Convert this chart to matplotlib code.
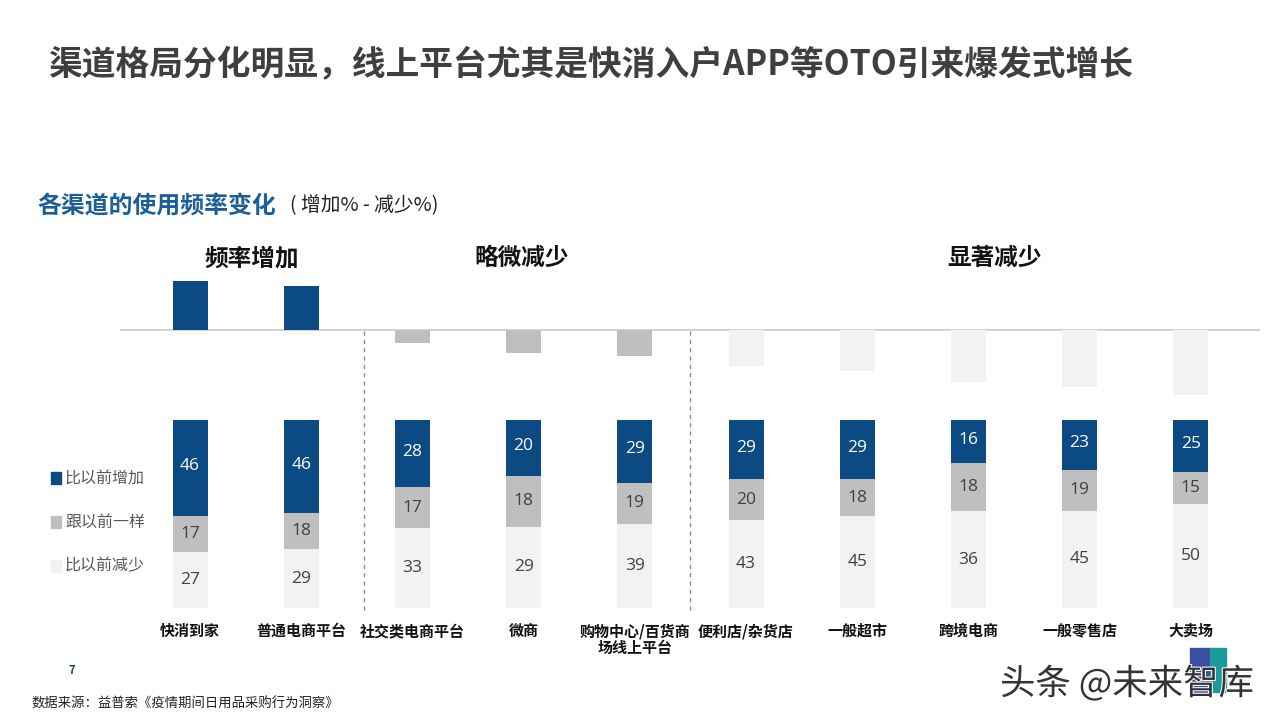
import matplotlib
matplotlib.use("Agg")
import matplotlib.pyplot as plt
from matplotlib.patches import Rectangle
import matplotlib.patheffects as pe
import numpy as np

plt.rcParams['font.family'] = ['Noto Sans CJK SC', 'DejaVu Sans']

# ---------------- data ----------------
categories = ['快消到家', '普通电商平台', '社交类电商平台', '微商', '购物中心/百货商\n场线上平台',
              '便利店/杂货店', '一般超市', '跨境电商', '一般零售店', '大卖场']
increase = [46, 46, 28, 20, 29, 29, 29, 16, 23, 25]
same = [17, 18, 17, 18, 19, 20, 18, 18, 19, 15]
decrease = [27, 29, 33, 29, 39, 43, 45, 36, 45, 50]
groups = ['频率增加', '略微减少', '显著减少']
legend_labels = ['比以前增加', '跟以前一样', '比以前减少']

NAVY = '#0B4A82'
GRAY = '#BFBFBF'
LIGHT = '#F2F2F2'

W, H = 1280, 720
fig = plt.figure(figsize=(12.8, 7.2), dpi=100)

def fx(px):
    return px / W

def fy(py):
    return 1 - py / H

# x mapping: first center at px 190, spacing 111.2 px; axes from px 120 to 1260
x0_px, step_px = 190.0, 111.2
ax_left, ax_right = 120, 1260
xmin = (ax_left - x0_px) / step_px
xmax = (ax_right - x0_px) / step_px
bw = 35 / step_px
x = np.arange(len(categories))
net = np.array(increase) - np.array(decrease)

# ---------------- top net bar chart ----------------
top_px, bot_px, zero_px, scale = 272, 402, 330, 2.58
axT = fig.add_axes([fx(ax_left), fy(bot_px), fx(ax_right - ax_left), (bot_px - top_px) / H])
axT.set_xlim(xmin, xmax)
axT.set_ylim(-(bot_px - zero_px) / scale, (zero_px - top_px) / scale)
net_colors = [NAVY if v > 0 else (GRAY if i < 5 else LIGHT) for i, v in enumerate(net)]
axT.bar(x, net, width=bw, color=net_colors, zorder=2)
axT.axhline(0, color='#D0D0D0', lw=1.3, zorder=1)
axT.axis('off')

# ---------------- bottom 100% stacked bars ----------------
sb_top, sb_bot = 420, 608
axB = fig.add_axes([fx(ax_left), fy(sb_bot), fx(ax_right - ax_left), (sb_bot - sb_top) / H])
axB.set_xlim(xmin, xmax)
axB.set_ylim(0, 1)
tot = np.array(increase) + np.array(same) + np.array(decrease)
d = np.array(decrease) / tot
s = np.array(same) / tot
inc = np.array(increase) / tot
axB.bar(x, d, width=bw, color=LIGHT)
axB.bar(x, s, width=bw, bottom=d, color=GRAY)
axB.bar(x, inc, width=bw, bottom=d + s, color=NAVY)
num_font = ['Open Sans', 'DejaVu Sans']
for i in range(len(x)):
    axB.text(x[i], d[i] / 2, str(decrease[i]), ha='center', va='center', fontsize=12.5,
             color='#404040', family=num_font)
    axB.text(x[i], d[i] + s[i] / 2, str(same[i]), ha='center', va='center', fontsize=12.5,
             color='#404040', family=num_font)
    axB.text(x[i], d[i] + s[i] + inc[i] / 2 + 0.01, str(increase[i]), ha='center', va='center',
             fontsize=12.5, color='white', family=num_font)
    axB.text(x[i], -0.08, categories[i], ha='center', va='top', fontsize=10.8,
             fontweight='bold', color='#111111', linespacing=1.05)
axB.axis('off')

# dashed separators
for sep_px in (364, 690):
    fig.add_artist(plt.Line2D([fx(sep_px), fx(sep_px)], [fy(331), fy(612)],
                              color='#8090A0', lw=1, ls=(0, (3, 3))))

# ---------------- texts ----------------
fig.text(fx(48), fy(65), '渠道格局分化明显，线上平台尤其是快消入户APP等OTO引来爆发式增长',
         fontsize=24.3, fontweight='bold', color='#3F3F3F', va='center', ha='left')
fig.text(fx(37), fy(207), '各渠道的使用频率变化', fontsize=17.2, fontweight='bold',
         color='#1A5E9A', va='center', ha='left')
fig.text(fx(290), fy(206), '( 增加% - 减少%)', fontsize=14.2, color='#222222',
         va='center', ha='left')

for g, cx in zip(groups, (252, 522, 995)):
    fig.text(fx(cx), fy(258), g, fontsize=17, fontweight='bold', color='#111111',
             ha='center', va='center')

# legend
for lab, col, py in zip(legend_labels, (NAVY, GRAY, LIGHT), (478, 522, 566)):
    fig.add_artist(Rectangle((fx(51), fy(py + 6)), 10 / W, 12 / H, color=col,
                             transform=fig.transFigure))
    fig.text(fx(65), fy(py), lab, fontsize=11.5, color='#595959', va='center', ha='left')

# footer
fig.text(fx(72), fy(671), '7', fontsize=8, fontweight='bold', color='#1F3F7F',
         ha='center', va='center')
fig.text(fx(32), fy(704), '数据来源：益普索《疫情期间日用品采购行为洞察》', fontsize=9.6,
         color='#222222', ha='left', va='center')

# watermark
fig.add_artist(Rectangle((fx(1190), fy(692)), 20 / W, 44 / H, color='#3A4FA0',
                         transform=fig.transFigure))
fig.add_artist(Rectangle((fx(1210), fy(692)), 16 / W, 44 / H, color='#1A9A9A',
                         transform=fig.transFigure))
fig.text(fx(1000), fy(684), '头条 @未来智库', fontsize=25.5, color='#333333',
         ha='left', va='center',
         path_effects=[pe.withStroke(linewidth=1.5, foreground='white')])

fig.savefig('out.png', dpi=100)
